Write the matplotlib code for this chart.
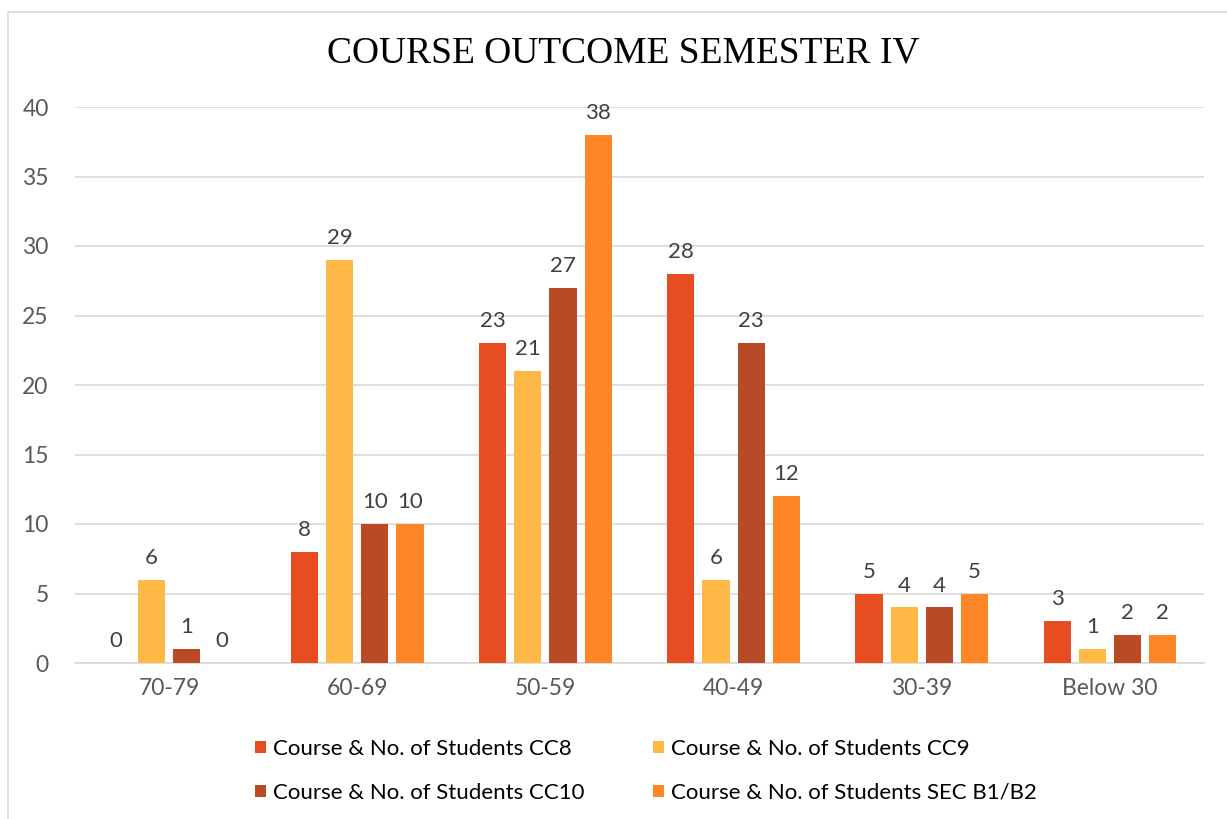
import numpy as np
import matplotlib.pyplot as plt
from matplotlib.patches import Rectangle

## Données

categories = ["70-79", "60-69", "50-59", "40-49", "30-39", "Below 30"]
series_names = ["Course & No. of Students CC8", "Course & No. of Students CC9",
                "Course & No. of Students CC10", "Course & No. of Students SEC B1/B2"]
cc8 = [0, 8, 23, 28, 5, 3]
cc9 = [6, 29, 21, 6, 4, 1]
cc10 = [1, 10, 27, 23, 4, 2]
sec = [0, 10, 38, 12, 5, 2]
colors = ["#E64D21", "#FFB946", "#B84A25", "#FF8627"]

## Figure

fig = plt.figure(figsize=(12.27, 8.19), dpi=100)
ax = fig.add_axes([75/1227, 1-663/819, (1204-75)/1227, (663-107)/819])

# cadre gris autour du graphique
fig.patches.append(Rectangle((8/1227, -0.05), 1.1, 1-12/819+0.05, transform=fig.transFigure,
                             fill=False, edgecolor="#D9D9D9", linewidth=1.2))

x = np.arange(len(categories))
w = 0.144
step = 0.187
series = [cc8, cc9, cc10, sec]
bars = []
for i, vals in enumerate(series):
    pos = x + (i - 1.5)*step
    b = ax.bar(pos, vals, w, color=colors[i], label=series_names[i], zorder=3)
    bars.append(b)
    for p, v in zip(pos, vals):
        ax.text(p, v + 0.85, str(v), ha="center", va="bottom", fontsize=16,
                color="#404040", family="Lato")

ax.set_xlim(-0.5, len(categories) - 0.5)
ax.set_ylim(0, 40)
ax.set_yticks(range(0, 41, 5))
ax.set_xticks(x)
ax.set_xticklabels(categories)
ax.grid(axis="y", color="#D9D9D9", linewidth=1.2, zorder=0)
for s in ["top", "right", "left"]:
    ax.spines[s].set_visible(False)
ax.spines["bottom"].set_color("#D9D9D9")
ax.spines["bottom"].set_linewidth(1.2)
ax.tick_params(length=0, labelsize=16.5, labelcolor="#595959")
ax.tick_params(axis="x", pad=11)
ax.tick_params(axis="y", pad=19)
for lab in ax.get_xticklabels() + ax.get_yticklabels():
    lab.set_family("Lato")

fig.text(623/1227, 1-53/819, "COURSE OUTCOME SEMESTER IV", ha="center", va="center",
         fontsize=27, family="Liberation Serif", color="black")

# ordre pour remplir ligne par ligne
order = [0, 2, 1, 3]
leg = fig.legend([bars[i] for i in order], [series_names[i] for i in order],
                 loc="upper left", bbox_to_anchor=(255/1227, 1-739/819), ncol=2,
                 frameon=False, borderpad=0, borderaxespad=0,
                 prop={"family": "Lato", "size": 16}, handlelength=0.5, handleheight=0.5,
                 handletextpad=0.3, columnspacing=3.1, labelspacing=1.07)
for t in leg.get_texts():
    t.set_color("black")

plt.savefig("out.png", dpi=100)
